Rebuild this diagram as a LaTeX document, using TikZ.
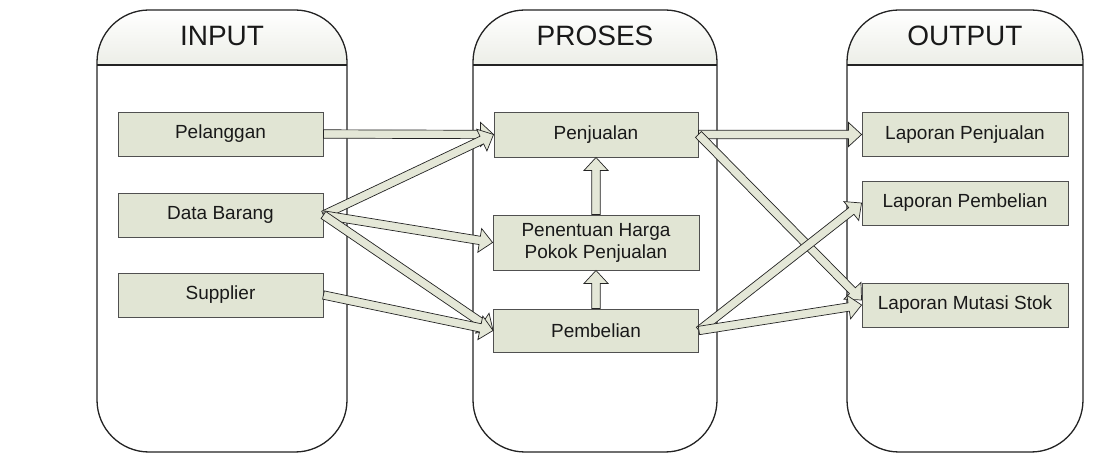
\documentclass[tikz,border=0pt]{standalone}
\usepackage{fontspec}
\setmainfont{Liberation Sans}
\usetikzlibrary{calc}

\definecolor{boxfill}{RGB}{225,229,212}
\definecolor{arrfill}{RGB}{228,231,215}
\definecolor{hdrfill}{RGB}{236,238,231}
\definecolor{inkline}{RGB}{35,35,35}
\definecolor{boxline}{RGB}{80,80,80}
\definecolor{txt}{RGB}{25,25,25}

% block arrow from #1 to #2: shaft half width 4.2, head half width 12, head length 13
\newcommand\blockarrow[2]{%
  \draw[blockarr]
    ($(#1)!4.2pt!90:(#2)$) --
    ($(#2)!13pt!(#1)!4.2pt!90:(#2)$) --
    ($(#2)!13pt!(#1)!12pt!90:(#2)$) --
    (#2) --
    ($(#2)!13pt!(#1)!12pt!-90:(#2)$) --
    ($(#2)!13pt!(#1)!4.2pt!-90:(#2)$) --
    ($(#1)!4.2pt!-90:(#2)$) -- cycle;}

% swimlane with rounded frame and shaded header band
\newcommand\swimlane[4]{%
  \begin{scope}
    \clip[rounded corners=52] (#1,10) rectangle (#2,452);
    \shade[top color=white,bottom color=hdrfill] (#1,10) rectangle (#2,65);
  \end{scope}
  \draw[lane,rounded corners=52] (#1,10) rectangle (#2,452);
  \draw[lane] (#1,65) -- (#2,65);
  \node[title] (#3) at ({(#1+#2)/2},36) {#4};}

\begin{document}
\begin{tikzpicture}[x=1pt,y=-1pt,
  lane/.style={draw=inkline,line width=1.3pt},
  title/.style={text=txt,font=\fontsize{28}{32}\selectfont},
  proc/.style={draw=boxline,fill=boxfill,line width=0.9pt,text=txt,
    minimum width=205pt,minimum height=44pt,inner sep=2pt,align=center,
    font=\fontsize{19}{22}\selectfont},
  blockarr/.style={draw=inkline,fill=arrfill,line width=0.7pt,line join=miter}]

\useasboundingbox (0,0) rectangle (1098,454);
\fill[white] (0,0) rectangle (1098,454);

\swimlane{97}{347}{tin}{INPUT}
\swimlane{473}{717}{tproc}{PROSES}
\swimlane{847}{1083}{tout}{OUTPUT}

% input
\node[proc] (pel) at (220.5,134) {Pelanggan};
\node[proc] (dbr) at (220.5,215) {Data Barang};
\node[proc] (sup) at (220.5,295) {Supplier};

% process
\node[proc,minimum width=204pt,minimum height=45pt] (pjl) at (596,134.5) {Penjualan};
\node[proc,minimum width=206pt,minimum height=55pt] (hpp) at (596,242.5) {Penentuan Harga\\Pokok Penjualan};
\node[proc,minimum height=43pt] (pbl) at (596,330.5) {Pembelian};

% output
\node[proc,minimum width=206pt] (lpj) at (965,134.5) {Laporan Penjualan};
\node[proc,minimum width=206pt] (lpb) at (965,203) {Laporan Pembelian};
\node[proc,minimum width=206pt] (lms) at (965,305) {Laporan Mutasi Stok};

\coordinate (lmsup) at ($(lms.west)+(0,-5)$);

% flows
\blockarrow{pel.east}{pjl.west}
\blockarrow{dbr.east}{pjl.west}
\blockarrow{dbr.east}{hpp.west}
\blockarrow{dbr.east}{pbl.west}
\blockarrow{sup.east}{pbl.west}
\blockarrow{pbl.north}{hpp.south}
\blockarrow{hpp.north}{pjl.south}
\blockarrow{pjl.east}{lpj.west}
\blockarrow{pjl.east}{lmsup}
\blockarrow{pbl.east}{lpb.west}
\blockarrow{pbl.east}{lms.west}
\end{tikzpicture}
\end{document}
